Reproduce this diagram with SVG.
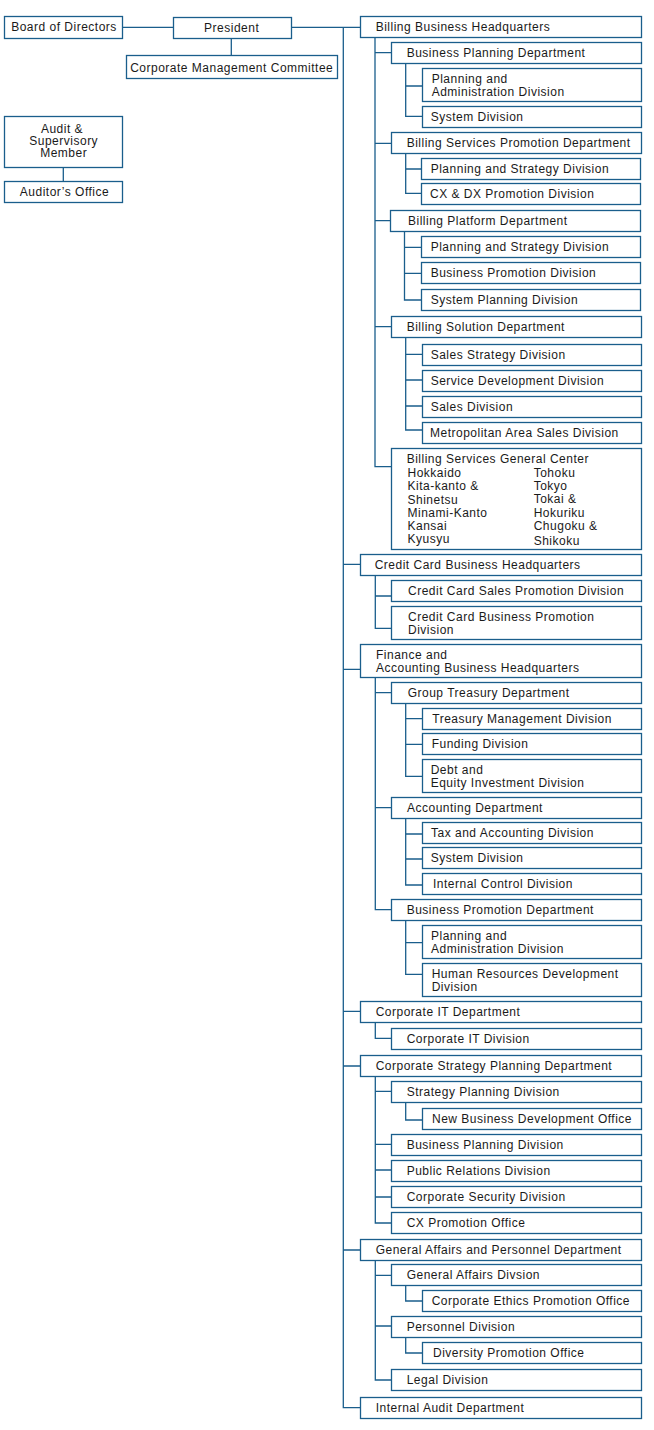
<svg xmlns="http://www.w3.org/2000/svg" width="654" height="1430" viewBox="0 0 654 1430">
<style>
.b{fill:#fff;stroke:#1a5e8c;stroke-width:1.3}
.t{font-family:"Liberation Sans",Arial,sans-serif;font-size:12px;fill:#1a1a1a;letter-spacing:0.5px}
.m{text-anchor:middle}
.c{fill:none;stroke:#1a5e8c;stroke-width:1.3}
</style>
<rect width="654" height="1430" fill="#fff"/>
<g id="connectors" class="c">
<path d="M122.5,27.3H173.5M231.3,38.5V55.5M63.3,167.5V181.5"/>
<path d="M291.5,27.3H360.5M343.3,27.3V1407.7H360.5M343.3,564.3H360.5M343.3,669.3H360.5M343.3,1011.3H360.5M343.3,1066H360.5M343.3,1250H360.5"/>
<path d="M375,37.5V466.7H391.5M375,52.7H391.5M375,143.3H391.5M375,220.7H391.5M375,326.7H391.5"/>
<path d="M405.7,63.5V116.3H422.5M405.7,86H422.5"/>
<path d="M405.7,153.5V193.3H422.5M405.7,169H422.5"/>
<path d="M404.5,231.5V300H422.5M404.5,247.3H422.5M404.5,273.3H422.5"/>
<path d="M405.7,337.5V430H422.5M405.7,354.3H422.5M405.7,380H422.5M405.7,406H422.5"/>
<path d="M375.3,575.5V628.3H391.5M375.3,596H391.5"/>
<path d="M375.3,677.5V909.7H391.5M375.3,692.7H391.5M375.3,807.7H391.5"/>
<path d="M405.7,703.5V776.3H422.5M405.7,718.7H422.5M405.7,744.3H422.5"/>
<path d="M405.7,818.5V885H422.5M405.7,834H422.5M405.7,859H422.5"/>
<path d="M405.7,920.5V974.3H422.5M405.7,942.7H422.5"/>
<path d="M375.3,1022.5V1038.3H391.5"/>
<path d="M375.3,1076.5V1223H391.5M375.3,1091.3H391.5M375.3,1144.3H391.5M375.3,1170H391.5M375.3,1197H391.5"/>
<path d="M405.7,1102.5V1120H422.5"/>
<path d="M375.3,1260.5V1380H391.5M375.3,1275.3H391.5M375.3,1326H391.5"/>
<path d="M405.7,1285.5V1301H422.5"/>
<path d="M405.7,1337.5V1353H422.5"/>
</g>
<g id="board"><rect class="b" x="4.5" y="16.5" width="118" height="22"/><text class="t m" x="64" y="31">Board of Directors</text></g>
<g id="president"><rect class="b" x="173.5" y="17.5" width="118" height="21"/><text class="t m" x="231.7" y="32">President</text></g>
<g id="cmc"><rect class="b" x="126.5" y="55.5" width="211" height="23"/><text class="t m" x="231.7" y="71.5">Corporate Management Committee</text></g>
<g id="audit"><rect class="b" x="4.5" y="116.5" width="118" height="51"/><text class="t m" x="62" y="133">Audit &amp;</text><text class="t m" x="63.7" y="145">Supervisory</text><text class="t m" x="63.7" y="157">Member</text></g>
<g id="auditor-office"><rect class="b" x="4.5" y="181.5" width="118" height="21"/><text class="t m" x="64.5" y="196">Auditor’s Office</text></g>

<g id="bbhq"><rect class="b" x="360.5" y="16.5" width="281" height="21"/><text class="t" x="375.7" y="31">Billing Business Headquarters</text></g>
<g id="bpd"><rect class="b" x="391.5" y="42.5" width="250" height="21"/><text class="t" x="406.7" y="57">Business Planning Department</text></g>
<g id="bpd-pad"><rect class="b" x="422.5" y="68.5" width="219" height="33"/><text class="t" x="431.7" y="82.5">Planning and</text><text class="t" x="431.7" y="95.5">Administration Division</text></g>
<g id="bpd-sys"><rect class="b" x="422.5" y="106.5" width="219" height="21"/><text class="t" x="430.7" y="121">System Division</text></g>
<g id="bspd"><rect class="b" x="391.5" y="132.5" width="250" height="21"/><text class="t" x="406.7" y="147">Billing Services Promotion Department</text></g>
<g id="bspd-psd"><rect class="b" x="421.5" y="158.5" width="219" height="21"/><text class="t" x="430.7" y="173">Planning and Strategy Division</text></g>
<g id="bspd-cxdx"><rect class="b" x="421.5" y="183.5" width="219" height="21"/><text class="t" x="430" y="198">CX &amp; DX Promotion Division</text></g>
<g id="bpfd"><rect class="b" x="390.5" y="210.5" width="250" height="21"/><text class="t" x="408" y="225">Billing Platform Department</text></g>
<g id="bpfd-psd"><rect class="b" x="421.5" y="236.5" width="219" height="21"/><text class="t" x="430.7" y="251">Planning and Strategy Division</text></g>
<g id="bpfd-bpd"><rect class="b" x="421.5" y="262.5" width="219" height="21"/><text class="t" x="430.7" y="277">Business Promotion Division</text></g>
<g id="bpfd-spd"><rect class="b" x="421.5" y="289.5" width="219" height="21"/><text class="t" x="430.7" y="304">System Planning Division</text></g>
<g id="bsd"><rect class="b" x="391.5" y="316.5" width="250" height="21"/><text class="t" x="406.7" y="331">Billing Solution Department</text></g>
<g id="bsd-ss"><rect class="b" x="422.5" y="344.5" width="219" height="21"/><text class="t" x="430.7" y="359">Sales Strategy Division</text></g>
<g id="bsd-sd"><rect class="b" x="422.5" y="370.5" width="219" height="21"/><text class="t" x="430.7" y="385">Service Development Division</text></g>
<g id="bsd-s"><rect class="b" x="422.5" y="396.5" width="219" height="21"/><text class="t" x="430.7" y="411">Sales Division</text></g>
<g id="bsd-m"><rect class="b" x="422.5" y="422.5" width="219" height="21"/><text class="t" x="430" y="437">Metropolitan Area Sales Division</text></g>
<g id="bsgc"><rect class="b" x="391.5" y="448.5" width="250" height="101"/>
<text class="t" x="406.7" y="463">Billing Services General Center</text>
<text class="t" x="407.5" y="476.5">Hokkaido</text><text class="t" x="407.5" y="489.5">Kita-kanto &amp;</text><text class="t" x="407.5" y="504">Shinetsu</text><text class="t" x="407.5" y="517">Minami-Kanto</text><text class="t" x="407.5" y="530">Kansai</text><text class="t" x="407.5" y="543">Kyusyu</text>
<text class="t" x="533.7" y="476.5">Tohoku</text><text class="t" x="533.7" y="489.5">Tokyo</text><text class="t" x="533.7" y="502.5">Tokai &amp;</text><text class="t" x="533.7" y="517">Hokuriku</text><text class="t" x="533.7" y="530">Chugoku &amp;</text><text class="t" x="533.7" y="545">Shikoku</text></g>
<g id="cchq"><rect class="b" x="360.5" y="554.5" width="281" height="21"/><text class="t" x="374.7" y="569">Credit Card Business Headquarters</text></g>
<g id="ccspd"><rect class="b" x="391.5" y="580.5" width="250" height="21"/><text class="t" x="408" y="595">Credit Card Sales Promotion Division</text></g>
<g id="ccbpd"><rect class="b" x="391.5" y="606.5" width="250" height="33"/><text class="t" x="408" y="621">Credit Card Business Promotion</text><text class="t" x="408" y="634">Division</text></g>
<g id="fahq"><rect class="b" x="360.5" y="644.5" width="281" height="33"/><text class="t" x="376" y="658.5">Finance and</text><text class="t" x="376" y="671.5">Accounting Business Headquarters</text></g>
<g id="gtd"><rect class="b" x="391.5" y="682.5" width="250" height="21"/><text class="t" x="407.7" y="697">Group Treasury Department</text></g>
<g id="tmd"><rect class="b" x="422.5" y="708.5" width="219" height="21"/><text class="t" x="432.3" y="723">Treasury Management Division</text></g>
<g id="fd"><rect class="b" x="422.5" y="733.5" width="219" height="21"/><text class="t" x="431.7" y="748">Funding Division</text></g>
<g id="deid"><rect class="b" x="422.5" y="759.5" width="219" height="33"/><text class="t" x="430.7" y="773.5">Debt and</text><text class="t" x="430.7" y="786.5">Equity Investment Division</text></g>
<g id="ad"><rect class="b" x="391.5" y="797.5" width="250" height="21"/><text class="t" x="407" y="812">Accounting Department</text></g>
<g id="tad"><rect class="b" x="422.5" y="822.5" width="219" height="21"/><text class="t" x="431" y="837">Tax and Accounting Division</text></g>
<g id="sd2"><rect class="b" x="422.5" y="847.5" width="219" height="21"/><text class="t" x="430.7" y="862">System Division</text></g>
<g id="icd"><rect class="b" x="422.5" y="873.5" width="219" height="21"/><text class="t" x="433" y="888">Internal Control Division</text></g>
<g id="bprd"><rect class="b" x="391.5" y="899.5" width="250" height="21"/><text class="t" x="406.7" y="914">Business Promotion Department</text></g>
<g id="pad2"><rect class="b" x="422.5" y="925.5" width="219" height="33"/><text class="t" x="431" y="939.5">Planning and</text><text class="t" x="431" y="952.5">Administration Division</text></g>
<g id="hrdd"><rect class="b" x="422.5" y="963.5" width="219" height="33"/><text class="t" x="431.7" y="977.5">Human Resources Development</text><text class="t" x="431.7" y="990.5">Division</text></g>
<g id="citd"><rect class="b" x="360.5" y="1001.5" width="281" height="21"/><text class="t" x="375.7" y="1016">Corporate IT Department</text></g>
<g id="citdiv"><rect class="b" x="391.5" y="1028.5" width="250" height="21"/><text class="t" x="406.7" y="1043">Corporate IT Division</text></g>
<g id="cspd"><rect class="b" x="360.5" y="1055.5" width="281" height="21"/><text class="t" x="375.7" y="1070">Corporate Strategy Planning Department</text></g>
<g id="spd"><rect class="b" x="391.5" y="1081.5" width="250" height="21"/><text class="t" x="406.7" y="1096">Strategy Planning Division</text></g>
<g id="nbdo"><rect class="b" x="422.5" y="1108.5" width="219" height="21"/><text class="t" x="432" y="1123">New Business Development Office</text></g>
<g id="bpdiv"><rect class="b" x="391.5" y="1134.5" width="250" height="21"/><text class="t" x="406.7" y="1149">Business Planning Division</text></g>
<g id="prd"><rect class="b" x="391.5" y="1160.5" width="250" height="21"/><text class="t" x="406.7" y="1175">Public Relations Division</text></g>
<g id="csd"><rect class="b" x="391.5" y="1186.5" width="250" height="21"/><text class="t" x="406.7" y="1201">Corporate Security Division</text></g>
<g id="cxpo"><rect class="b" x="391.5" y="1212.5" width="250" height="21"/><text class="t" x="406.7" y="1227">CX Promotion Office</text></g>
<g id="gapd"><rect class="b" x="360.5" y="1239.5" width="281" height="21"/><text class="t" x="375.7" y="1254">General Affairs and Personnel Department</text></g>
<g id="gad"><rect class="b" x="391.5" y="1264.5" width="250" height="21"/><text class="t" x="406.7" y="1279">General Affairs Divsion</text></g>
<g id="cepo"><rect class="b" x="422.5" y="1290.5" width="219" height="21"/><text class="t" x="431.7" y="1305">Corporate Ethics Promotion Office</text></g>
<g id="pd"><rect class="b" x="391.5" y="1316.5" width="250" height="21"/><text class="t" x="406.7" y="1331">Personnel Division</text></g>
<g id="dpo"><rect class="b" x="422.5" y="1342.5" width="219" height="21"/><text class="t" x="433" y="1357">Diversity Promotion Office</text></g>
<g id="ld"><rect class="b" x="391.5" y="1369.5" width="250" height="21"/><text class="t" x="406.7" y="1384">Legal Division</text></g>
<g id="iad"><rect class="b" x="360.5" y="1397.5" width="281" height="21"/><text class="t" x="375.7" y="1412">Internal Audit Department</text></g>
</svg>
